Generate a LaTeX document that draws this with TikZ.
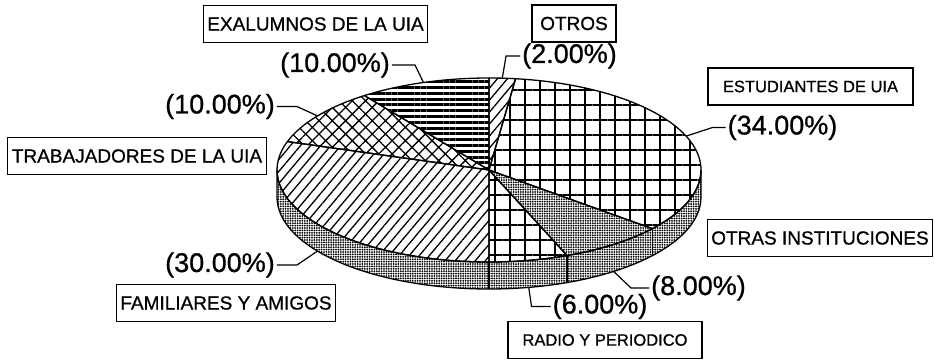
\documentclass[tikz,border=0pt]{standalone}
\usepackage{fontspec}
\setmainfont{Liberation Sans}[FakeBold=0.8]
\usetikzlibrary{patterns.meta,calc}

\begin{document}
\begin{tikzpicture}[x=1pt, y=1pt,
    box/.style={rectangle, draw, line width=1.2pt, minimum height=37pt, inner xsep=4pt, font=\fontsize{19}{22}\selectfont},
    smallbox/.style={box, font=\fontsize{16.5}{20}\selectfont},
    pct/.style={inner xsep=2pt, inner ysep=0pt, font=\fontsize{27}{30}\selectfont},
    leader/.style={line width=1.2pt},
    rim/.style={draw, line width=1.3pt, line join=round},
    hlines/.style={pattern={Lines[angle=0, distance=5.8pt, line width=3pt]}},
    diag/.style={pattern={Lines[angle=50, distance=7.7pt, line width=1.3pt]}},
    squares/.style={pattern={Hatch[angle=0, distance=15pt, line width=1.5pt]}},
    xhatch/.style={pattern={Hatch[angle=45, distance=9.4pt, line width=1.3pt]}},
    stipple/.style={pattern={Dots[distance=2.4pt, radius=1pt]}}
]
\useasboundingbox (0,0) rectangle (935,360);

\newcommand{\pieslice}[3]{\draw[#3, rim] (c) -- ($(c)+(#1:212 and 92)$) arc[start angle=#1, end angle=#2, x radius=212, y radius=92] -- cycle;}

% Pie: side band first
\coordinate (c) at (489,190);
\draw[stipple, rim] ($(c)+(180:212 and 92)$) arc[start angle=180, end angle=360, x radius=212, y radius=92] -- ++(0,-27) arc[start angle=360, end angle=180, x radius=212, y radius=92] -- cycle;
\foreach \a in {-39.6,-68.4,-90}
    \draw[rim] ($(c)+(\a:212 and 92)$) -- ++(0,-27);

% Pie: top slices, clockwise from the top
\pieslice{90}{82.8}{diag}
\pieslice{82.8}{-39.6}{squares}
\pieslice{-39.6}{-68.4}{stipple}
\pieslice{-68.4}{-90}{squares}
\pieslice{270}{162}{diag}
\pieslice{162}{126}{xhatch}
\pieslice{126}{90}{hlines}

% Points on the rim for the leaders
\coordinate (mOtr) at ($(c)+(86.4:212 and 92)$);
\coordinate (mEst) at ($(c)+(21.6:212 and 92)$);
\coordinate (mOin) at ($(c)+(-54:212 and 92)+(0,-27)$);
\coordinate (mRad) at ($(c)+(-79.2:212 and 92)+(0,-27)$);
\coordinate (mFam) at ($(c)+(-144:212 and 92)+(0,-27)$);
\coordinate (mTra) at ($(c)+(144:212 and 92)$);
\coordinate (mExa) at ($(c)+(108:212 and 92)$);

% Boxed labels
\node[box] (exa) at (315.5,336) {EXALUMNOS DE LA UIA};
\node[box] (tra) at (137,204) {TRABAJADORES DE LA UIA};
\node[box, minimum width=84pt] (otr) at (574,336.5) {OTROS};
\node[smallbox, minimum width=205pt] (est) at (810.5,273.5) {ESTUDIANTES DE UIA};
\node[box] (oin) at (820,122) {OTRAS INSTITUCIONES};
\node[smallbox, minimum width=194pt] (rad) at (605,20) {RADIO Y PERIODICO};
\node[box] (fam) at (226,57) {FAMILIARES Y AMIGOS};

% Percentages
\node[pct] (pExa) at (335,295) {(10.00\%)};
\node[pct] (pTra) at (220,253.5) {(10.00\%)};
\node[pct] (pOtr) at (569.5,304) {(2.00\%)};
\node[pct] (pEst) at (782.5,232.5) {(34.00\%)};
\node[pct] (pOin) at (698.5,72) {(8.00\%)};
\node[pct] (pRad) at (600,53.5) {(6.00\%)};
\node[pct] (pFam) at (220,95) {(30.00\%)};

% Leaders
\draw[leader] (pExa.east) -- ++(23,0) -- (mExa);
\draw[leader] (pTra.east) -- ++(20,0) -- (mTra);
\draw[leader] (pOtr.west) -- ++(-14,0) -- (mOtr);
\draw[leader] (pEst.west) -- ++(-13,0) -- (mEst);
\draw[leader] (pOin.west) -- ++(-18,0) -- (mOin);
\draw[leader] (pRad.west) -- ++(-19,0) -- (mRad);
\draw[leader] (pFam.east) -- ++(20,0) -- (mFam);

\end{tikzpicture}
\end{document}
